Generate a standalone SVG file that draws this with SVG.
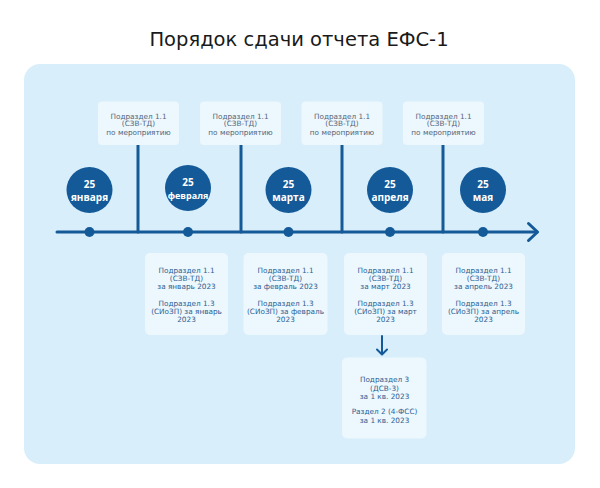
<svg xmlns="http://www.w3.org/2000/svg" width="600" height="488" viewBox="0 0 600 488">
<defs>
<style>
.title{font-family:"DejaVu Sans","Open Sans",sans-serif;font-size:19.5px;fill:#1a1a1a;text-anchor:middle}
.box{fill:#edf7fe}
.tt{font-family:"DejaVu Sans",sans-serif;font-size:7.3px;fill:#536679;text-anchor:middle}
.bt{font-family:"DejaVu Sans",sans-serif;font-size:7.3px;fill:#2c5f92;text-anchor:middle}
.circ{fill:#145a98}
.ct{font-family:"Open Sans",sans-serif;font-weight:bold;font-size:10px;fill:#ffffff;text-anchor:middle}
.ln{stroke:#145a98;stroke-width:3;fill:none;stroke-linecap:round;stroke-linejoin:round}
</style>
</defs>
<rect width="600" height="488" fill="#ffffff"/>
<text class="title" x="299" y="46">Порядок сдачи отчета ЕФС-1</text>
<rect x="24" y="64" width="551" height="400" rx="16" fill="#d8eefb"/>

<g id="connectors">
<line class="ln" x1="57" y1="232" x2="537" y2="232"/>
<polyline class="ln" points="528.5,223.5 537.5,232 528.5,240.5"/>
<line class="ln" x1="138" y1="145" x2="138" y2="232"/>
<line class="ln" x1="241" y1="145" x2="241" y2="232"/>
<line class="ln" x1="342" y1="145" x2="342" y2="232"/>
<line class="ln" x1="443" y1="145" x2="443" y2="232"/>
<line class="ln" x1="382" y1="336" x2="382" y2="354" style="stroke-width:2"/>
<polyline class="ln" points="377,349.5 382,354.5 387,349.5" style="stroke-width:2"/>
<circle class="circ" cx="89.5" cy="232" r="5"/>
<circle class="circ" cx="188" cy="232" r="5"/>
<circle class="circ" cx="288.5" cy="232" r="5"/>
<circle class="circ" cx="390" cy="232" r="5"/>
<circle class="circ" cx="483" cy="232" r="5"/>
</g>

<g id="d1"><circle class="circ" cx="89.5" cy="190" r="23"/><text class="ct" x="89.5" y="187.5">25</text><text class="ct" x="89.5" y="200.5">января</text></g>
<g id="d2"><circle class="circ" cx="188" cy="188" r="23"/><text class="ct" x="188" y="185.5">25</text><text class="ct" x="188" y="198.5" style="font-size:9px">февраля</text></g>
<g id="d3"><circle class="circ" cx="288.5" cy="190" r="23"/><text class="ct" x="288.5" y="187.5">25</text><text class="ct" x="288.5" y="200.5">марта</text></g>
<g id="d4"><circle class="circ" cx="390" cy="190" r="23"/><text class="ct" x="390" y="187.5">25</text><text class="ct" x="390" y="200.5">апреля</text></g>
<g id="d5"><circle class="circ" cx="483" cy="190" r="23"/><text class="ct" x="483" y="187.5">25</text><text class="ct" x="483" y="200.5">мая</text></g>

<g id="t1"><rect class="box" x="98" y="101.5" width="81" height="43.5" rx="4"/><text class="tt" x="138.5" y="118.5">Подраздел 1.1</text><text class="tt" x="138.5" y="126">(СЗВ-ТД)</text><text class="tt" x="138.5" y="134.5">по мероприятию</text></g>
<g id="t2"><rect class="box" x="200" y="101.5" width="81" height="43.5" rx="4"/><text class="tt" x="240.5" y="118.5">Подраздел 1.1</text><text class="tt" x="240.5" y="126">(СЗВ-ТД)</text><text class="tt" x="240.5" y="134.5">по мероприятию</text></g>
<g id="t3"><rect class="box" x="301.5" y="101.5" width="81" height="43.5" rx="4"/><text class="tt" x="342" y="118.5">Подраздел 1.1</text><text class="tt" x="342" y="126">(СЗВ-ТД)</text><text class="tt" x="342" y="134.5">по мероприятию</text></g>
<g id="t4"><rect class="box" x="403" y="101.5" width="81" height="43.5" rx="4"/><text class="tt" x="443.5" y="118.5">Подраздел 1.1</text><text class="tt" x="443.5" y="126">(СЗВ-ТД)</text><text class="tt" x="443.5" y="134.5">по мероприятию</text></g>

<g id="b1"><rect class="box" x="145" y="253" width="83" height="82" rx="5"/>
<text class="bt" x="186.5" y="273">Подраздел 1.1</text><text class="bt" x="186.5" y="280.5">(СЗВ-ТД)</text><text class="bt" x="186.5" y="288.5">за январь 2023</text>
<text class="bt" x="186.5" y="306">Подраздел 1.3</text><text class="bt" x="186.5" y="313.5">(СИоЗП) за январь</text><text class="bt" x="186.5" y="322">2023</text></g>
<g id="b2"><rect class="box" x="243.5" y="253" width="84" height="82" rx="5"/>
<text class="bt" x="285.5" y="273">Подраздел 1.1</text><text class="bt" x="285.5" y="280.5">(СЗВ-ТД)</text><text class="bt" x="285.5" y="288.5">за февраль 2023</text>
<text class="bt" x="285.5" y="306">Подраздел 1.3</text><text class="bt" x="285.5" y="313.5">(СИоЗП) за февраль</text><text class="bt" x="285.5" y="322">2023</text></g>
<g id="b3"><rect class="box" x="344" y="253" width="83" height="82" rx="5"/>
<text class="bt" x="385.5" y="273">Подраздел 1.1</text><text class="bt" x="385.5" y="280.5">(СЗВ-ТД)</text><text class="bt" x="385.5" y="288.5">за март 2023</text>
<text class="bt" x="385.5" y="306">Подраздел 1.3</text><text class="bt" x="385.5" y="313.5">(СИоЗП) за март</text><text class="bt" x="385.5" y="322">2023</text></g>
<g id="b4"><rect class="box" x="442" y="253" width="83" height="82" rx="5"/>
<text class="bt" x="483.5" y="273">Подраздел 1.1</text><text class="bt" x="483.5" y="280.5">(СЗВ-ТД)</text><text class="bt" x="483.5" y="288.5">за апрель 2023</text>
<text class="bt" x="483.5" y="306">Подраздел 1.3</text><text class="bt" x="483.5" y="313.5">(СИоЗП) за апрель</text><text class="bt" x="483.5" y="322">2023</text></g>

<g id="b5"><rect class="box" x="342" y="357.5" width="84.5" height="81" rx="5"/>
<text class="bt" x="384.5" y="382">Подраздел 3</text><text class="bt" x="384.5" y="390.5">(ДСВ-3)</text><text class="bt" x="384.5" y="399">за 1 кв. 2023</text>
<text class="bt" x="384.5" y="414">Раздел 2 (4-ФСС)</text><text class="bt" x="384.5" y="422.5">за 1 кв. 2023</text></g>
</svg>
